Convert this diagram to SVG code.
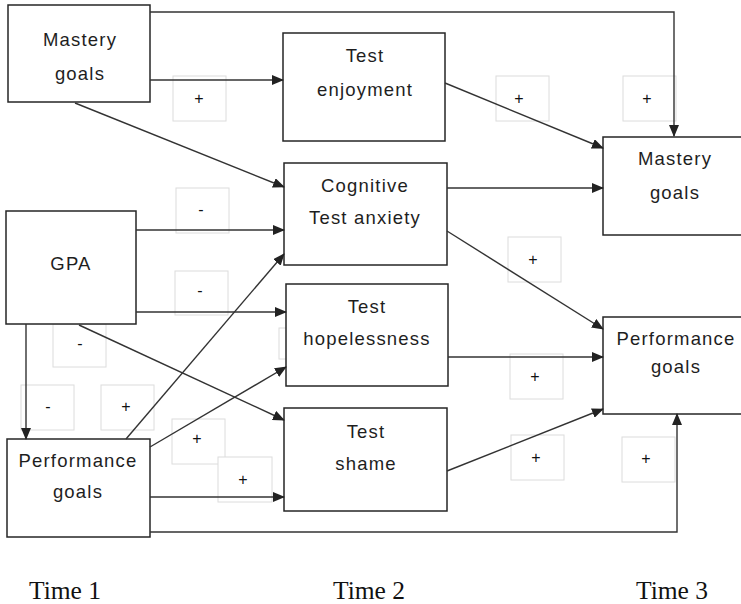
<svg xmlns="http://www.w3.org/2000/svg" width="741" height="604" viewBox="0 0 741 604">
<style>
.box{fill:#fff;stroke:#262626;stroke-width:1.5}
.lbl{fill:#fff;stroke:#dcdcdc;stroke-width:1}
.t{font-family:"Liberation Sans",Arial,sans-serif;font-size:18.5px;letter-spacing:1.2px;fill:#1e1e1e;text-anchor:middle}
.s{font-family:"Liberation Sans",Arial,sans-serif;font-size:16px;fill:#111;text-anchor:middle}
.time{font-family:"Liberation Serif","Times New Roman",serif;font-size:25.5px;fill:#111}
.c{fill:none;stroke:#333;stroke-width:1.4}
</style>
<defs>
<marker id="ah" markerUnits="userSpaceOnUse" markerWidth="12" markerHeight="10" refX="11" refY="5" orient="auto">
<path d="M0,0 L12,5 L0,10 z" fill="#222"/>
</marker>
</defs>
<rect width="741" height="604" fill="#fff"/>
<g id="labels">
<rect class="lbl" x="279" y="328" width="53" height="31"/>
<g><rect class="lbl" x="173" y="76" width="53" height="45"/><text class="s" x="199" y="104">+</text></g>
<g><rect class="lbl" x="496" y="76" width="53" height="45"/><text class="s" x="519" y="104">+</text></g>
<g><rect class="lbl" x="623" y="76" width="53" height="45"/><text class="s" x="647" y="104">+</text></g>
<g><rect class="lbl" x="176" y="188" width="53" height="45"/><text class="s" x="201" y="215">-</text></g>
<g><rect class="lbl" x="175" y="271" width="53" height="44"/><text class="s" x="200" y="296">-</text></g>
<g><rect class="lbl" x="53" y="324" width="53" height="43"/><text class="s" x="80" y="349">-</text></g>
<g><rect class="lbl" x="21" y="385" width="53" height="45"/><text class="s" x="48" y="412">-</text></g>
<g><rect class="lbl" x="101" y="385" width="53" height="45"/><text class="s" x="126" y="412">+</text></g>
<g><rect class="lbl" x="172" y="419" width="53" height="45"/><text class="s" x="197" y="444">+</text></g>
<g><rect class="lbl" x="218" y="457" width="54" height="45"/><text class="s" x="243" y="485">+</text></g>
<g><rect class="lbl" x="508" y="237" width="53" height="45"/><text class="s" x="533" y="265">+</text></g>
<g><rect class="lbl" x="510" y="354" width="53" height="45"/><text class="s" x="535" y="382">+</text></g>
<g><rect class="lbl" x="511" y="435" width="53" height="45"/><text class="s" x="536" y="463">+</text></g>
<g><rect class="lbl" x="622" y="437" width="53" height="45"/><text class="s" x="646" y="464">+</text></g>
</g>
<g id="mastery1"><rect class="box" x="8" y="5" width="142" height="97"/><text class="t" x="80" y="46">Mastery</text><text class="t" x="80" y="80">goals</text></g>
<g id="enjoyment"><rect class="box" x="283" y="33" width="162" height="108"/><text class="t" x="365" y="62">Test</text><text class="t" x="365" y="96">enjoyment</text></g>
<g id="anxiety"><rect class="box" x="284" y="163" width="163" height="102"/><text class="t" x="365" y="192">Cognitive</text><text class="t" x="365" y="224">Test anxiety</text></g>
<g id="mastery3"><rect class="box" x="603" y="137" width="142" height="98"/><text class="t" x="675" y="165">Mastery</text><text class="t" x="675" y="199">goals</text></g>
<g id="gpa"><rect class="box" x="6" y="211" width="130" height="113"/><text class="t" x="71" y="270">GPA</text></g>
<g id="hopelessness"><rect class="box" x="286" y="284" width="162" height="102"/><text class="t" x="367" y="313">Test</text><text class="t" x="367" y="345">hopelessness</text></g>
<g id="performance3"><rect class="box" x="603" y="317" width="142" height="97"/><text class="t" x="676" y="345">Performance</text><text class="t" x="676" y="373">goals</text></g>
<g id="shame"><rect class="box" x="284" y="408" width="163" height="103"/><text class="t" x="366" y="438">Test</text><text class="t" x="366" y="470">shame</text></g>
<g id="performance1"><rect class="box" x="7" y="439" width="143" height="98"/><text class="t" x="78" y="467">Performance</text><text class="t" x="78" y="498">goals</text></g>
<g id="connectors">
<path class="c" d="M150,12 H674 V136" marker-end="url(#ah)"/>
<path class="c" d="M150,80 H283" marker-end="url(#ah)"/>
<path class="c" d="M75,103 L284,187" marker-end="url(#ah)"/>
<path class="c" d="M445,83 L603,148" marker-end="url(#ah)"/>
<path class="c" d="M447,188 H603" marker-end="url(#ah)"/>
<path class="c" d="M447,231 L603,329" marker-end="url(#ah)"/>
<path class="c" d="M136,230 H284" marker-end="url(#ah)"/>
<path class="c" d="M136,312 H286" marker-end="url(#ah)"/>
<path class="c" d="M79,325 L284,420" marker-end="url(#ah)"/>
<path class="c" d="M26,324 V439" marker-end="url(#ah)"/>
<path class="c" d="M126,439 L284,254" marker-end="url(#ah)"/>
<path class="c" d="M150,447 L286,367" marker-end="url(#ah)"/>
<path class="c" d="M150,497 H284" marker-end="url(#ah)"/>
<path class="c" d="M150,532 H677 V414" marker-end="url(#ah)"/>
<path class="c" d="M448,357 H603" marker-end="url(#ah)"/>
<path class="c" d="M447,471 L603,409" marker-end="url(#ah)"/>
</g>
<text class="time" x="29" y="599">Time 1</text>
<text class="time" x="333" y="599">Time 2</text>
<text class="time" x="636" y="599">Time 3</text>
</svg>
